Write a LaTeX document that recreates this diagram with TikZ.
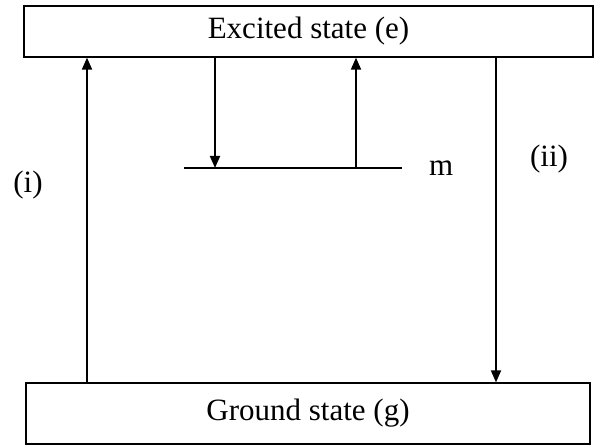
\documentclass[tikz,border=0pt]{standalone}
\usepackage{fontspec}
\setmainfont{Liberation Serif}
\usepackage{tikz}
\usetikzlibrary{arrows.meta,positioning,calc}

\begin{document}
\begin{tikzpicture}[x=1pt,y=1pt,
    lvlbox/.style={draw, line width=1.3pt, inner sep=0pt, anchor=center},
    trans/.style={line width=1.8pt, -{Triangle[length=12pt,width=10pt]}},
    lbl/.style={font=\fontsize{31}{36}\selectfont, inner sep=0pt}]
  \useasboundingbox (0,0) rectangle (595,445);
  % the two levels
  \node[lvlbox, lbl, minimum width=569pt, minimum height=51pt] (exc) at (308.5,413.5) {Excited state (e)};
  \node[lvlbox, lbl, minimum width=564pt, minimum height=61pt] (gnd) at (308,31.5) {Ground state (g)};
  % metastable level m
  \coordinate (mL) at (184,277);
  \coordinate (mR) at (402,277);
  \draw[line width=1.4pt] (mL) -- (mR);
  \node[lbl, right=27pt of mR, anchor=west] (mlab) {m};
  % x positions of the transitions
  \coordinate (xi)   at (87,0);
  \coordinate (xdn)  at (215,0);
  \coordinate (xup)  at (356,0);
  \coordinate (xii)  at (496,0);
  \draw[trans] (xi |- gnd.north) -- (xi |- exc.south);
  \draw[trans] (xdn |- exc.south) -- (xdn |- mL);
  \draw[trans] (xup |- mL) -- (xup |- exc.south);
  \draw[trans] (xii |- exc.south) -- (xii |- gnd.north);
  % labels of the two paths
  \node[lbl] (li)  at (28,260)  {(i)};
  \node[lbl] (lii) at (549,286) {(ii)};
\end{tikzpicture}
\end{document}
